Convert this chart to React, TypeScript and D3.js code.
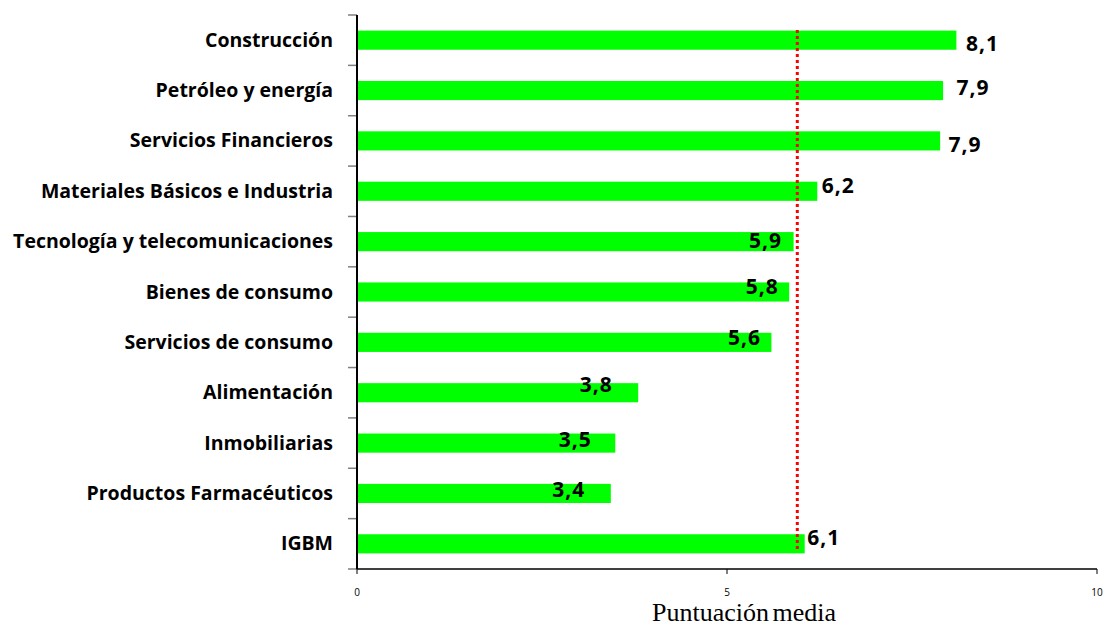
import React from "react";
import * as d3 from "d3";

const categories = [
  "Construcción",
  "Petróleo y energía",
  "Servicios Financieros",
  "Materiales Básicos e Industria",
  "Tecnología y telecomunicaciones",
  "Bienes de consumo",
  "Servicios de consumo",
  "Alimentación",
  "Inmobiliarias",
  "Productos Farmacéuticos",
  "IGBM",
];
const values = [8.1, 7.92, 7.88, 6.22, 5.9, 5.84, 5.6, 3.8, 3.49, 3.43, 6.05];
const valueLabels = ["8,1", "7,9", "7,9", "6,2", "5,9", "5,8", "5,6", "3,8", "3,5", "3,4", "6,1"];
const referenceValue = 5.95;
const xTicks = [0, 5, 10];
const xTitle = "Puntuación media";

// label offsets relative to bar end / band centre (layout, not data)
const labelDx = [26, 30, 25, 21, -28, -27, -27, -42, -40, -42, 19];
const labelDy = [3, -3, 4, -6, -1, -6, -5, -8, -4, -4, -6];

const W = 1109;
const H = 627;
const left = 357;
const right = 1097;
const top = 15;
const bottom = 569;

export default function App() {
  const x = d3.scaleLinear().domain([0, 10]).range([left, right]);
  const y = d3
    .scaleBand<string>()
    .domain(categories)
    .range([top, bottom])
    .paddingInner(0.62)
    .paddingOuter(0.31);
  const step = y.step();
  const boundaries = d3.range(categories.length + 1).map((i) => top + i * step);

  return (
    <svg
      width={W}
      height={H}
      style={{ position: "absolute", left: 0, top: 0, background: "#fff" }}
    >
      {categories.map((c, i) => (
        <rect
          key={c}
          x={x(0)}
          y={y(c)!}
          width={x(values[i]) - x(0)}
          height={y.bandwidth()}
          fill="#00ff00"
        />
      ))}
      <line
        x1={x(referenceValue)}
        x2={x(referenceValue)}
        y1={30}
        y2={552}
        stroke="#ff0000"
        strokeWidth={3}
        strokeDasharray="3,3"
      />
      {boundaries.map((b, i) => (
        <line key={i} x1={left - 9} x2={left} y1={b} y2={b} stroke="#808080" strokeWidth={1.5} />
      ))}
      {xTicks.map((t) => (
        <g key={t}>
          <line x1={x(t)} x2={x(t)} y1={bottom} y2={bottom + 5} stroke="#000" strokeWidth={1} />
          <text
            x={x(t)}
            y={596}
            textAnchor="middle"
            fontFamily="'Open Sans', sans-serif"
            fontSize={10}
            fill="#000"
          >
            {t}
          </text>
        </g>
      ))}
      <line x1={left} x2={left} y1={top} y2={bottom} stroke="#000" strokeWidth={2} />
      <line x1={left} x2={right} y1={bottom} y2={bottom} stroke="#000" strokeWidth={1.5} />
      {categories.map((c) => (
        <text
          key={c}
          x={333}
          y={y(c)! + y.bandwidth() / 2 + 6.5}
          textAnchor="end"
          fontFamily="'Open Sans', sans-serif"
          fontWeight={700}
          fontSize={19.5}
          fill="#000"
        >
          {c}
        </text>
      ))}
      {categories.map((c, i) => (
        <text
          key={c}
          x={x(values[i]) + labelDx[i]}
          y={y(c)! + y.bandwidth() / 2 + labelDy[i] + 7.5}
          textAnchor="middle"
          fontFamily="'Open Sans', sans-serif"
          fontWeight={700}
          fontSize={21}
          letterSpacing={1}
          fill="#000"
        >
          {valueLabels[i]}
        </text>
      ))}
      <text
        x={744}
        y={621}
        textAnchor="middle"
        fontFamily="'Liberation Serif', 'Times New Roman', serif"
        fontSize={26}
        wordSpacing={-3}
        fill="#000"
      >
        {xTitle}
      </text>
    </svg>
  );
}
